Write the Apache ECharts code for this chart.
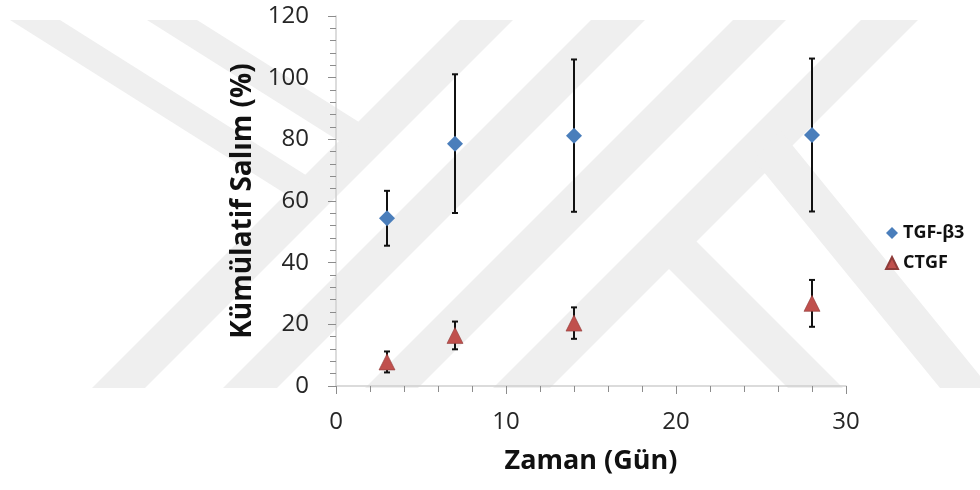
<!DOCTYPE html>
<html><head><meta charset="utf-8">
<script src="https://cdn.jsdelivr.net/npm/echarts@6/dist/echarts.min.js"></script>
<style>html,body{margin:0;padding:0;background:#fff}#c{width:980px;height:490px}</style>
</head><body><div id="c"></div>
<script>
// ---- data ----
const days = [3, 7, 14, 28];
const tgfMean = [54.4, 78.6, 81.2, 81.4];
const tgfErr = [8.9, 22.5, 24.7, 24.8];
const ctgfMean = [7.8, 16.4, 20.4, 26.8];
const ctgfErr = [3.4, 4.5, 5.1, 7.6];
const seriesNames = ['TGF-β3', 'CTGF'];
const xTicks = [0, 10, 20, 30];
const yTicks = [0, 20, 40, 60, 80, 100, 120];

// ---- background watermark bands (decoration) ----
const wmColor = '#efefef';
const wmBands = [
  [[92,388],[145,388],[513,20],[460,20]],
  [[223,388],[277,388],[645,20],[591,20]],
  [[365,388],[418,388],[786,20],[733,20]],
  [[493,388],[550,388],[918,20],[861,20]],
  [[10,20],[60,20],[320,184],[300,203]],
  [[147,20],[197,20],[370,129],[350,148]],
  [[685,230],[843,388],[788,388],[650,250]],
  [[754,160],[780,130],[990,388],[940,388]]
];

const tgfPts = days.map((d, i) => [d, tgfMean[i]]);
const ctgfPts = days.map((d, i) => [d, ctgfMean[i]]);
const tgfBars = days.map((d, i) => [d, tgfMean[i] - tgfErr[i], tgfMean[i] + tgfErr[i]]);
const ctgfBars = days.map((d, i) => [d, ctgfMean[i] - ctgfErr[i], ctgfMean[i] + ctgfErr[i]]);

function errItem(params, api) {
  const x = api.value(0), lo = api.value(1), hi = api.value(2);
  const a = api.coord([x, hi]), b = api.coord([x, lo]);
  const w = 3;
  const st = { stroke: '#111', lineWidth: 2 };
  return { type: 'group', children: [
    { type: 'line', shape: { x1: a[0], y1: a[1], x2: b[0], y2: b[1] }, style: st },
    { type: 'line', shape: { x1: a[0] - w, y1: a[1], x2: a[0] + w, y2: a[1] }, style: st },
    { type: 'line', shape: { x1: b[0] - w, y1: b[1], x2: b[0] + w, y2: b[1] }, style: st }
  ]};
}

const font = '"Open Sans", "Noto Sans", sans-serif';
const chart = echarts.init(document.getElementById('c'), null, { renderer: 'canvas' });
chart.setOption({
  backgroundColor: '#ffffff',
  animation: false,
  graphic: { elements: wmBands.map(pts => ({
    type: 'polygon', silent: true, z: -10,
    shape: { points: pts }, style: { fill: wmColor }
  })) },
  grid: { left: 336, right: 134, top: 16, bottom: 104 },
  legend: {
    data: seriesNames, orient: 'vertical', left: 880, top: 219,
    itemWidth: 12, itemHeight: 12, itemGap: 12,
    textStyle: { fontFamily: font, fontWeight: 'bold', fontSize: 18, color: '#111' }
  },
  xAxis: {
    type: 'value', min: xTicks[0], max: xTicks[xTicks.length - 1], interval: xTicks[1] - xTicks[0],
    name: 'Zaman (Gün)', nameLocation: 'middle', nameGap: 62,
    nameTextStyle: { fontFamily: font, fontWeight: 'bold', fontSize: 27, color: '#111' },
    axisLine: { show: true, lineStyle: { color: '#d0d0d0', width: 1.5 } },
    axisTick: { show: true, length: 8, lineStyle: { color: '#8c8c8c', width: 1 } },
    minorTick: { show: true, splitNumber: 5, length: 6, lineStyle: { color: '#8c8c8c', width: 1 } },
    splitLine: { show: false },
    axisLabel: { margin: 24, fontFamily: font, fontSize: 24, color: '#262626' }
  },
  yAxis: {
    type: 'value', min: yTicks[0], max: yTicks[yTicks.length - 1], interval: yTicks[1] - yTicks[0],
    name: 'Kümülatif Salım (%)', nameLocation: 'middle', nameGap: 79,
    nameTextStyle: { fontFamily: font, fontWeight: 'bold', fontSize: 28, color: '#111' },
    axisLine: { show: true, lineStyle: { color: '#d0d0d0', width: 1.5 } },
    axisTick: { show: true, length: 8, lineStyle: { color: '#8c8c8c', width: 1 } },
    minorTick: { show: true, splitNumber: 5, length: 6, lineStyle: { color: '#8c8c8c', width: 1 } },
    splitLine: { show: false },
    axisLabel: { margin: 27, fontFamily: font, fontSize: 24, color: '#262626' }
  },
  series: [
    { type: 'custom', name: 'errTGF', renderItem: errItem, data: tgfBars, encode: { x: 0, y: [1, 2] }, z: 3, clip: false, silent: true },
    { type: 'custom', name: 'errCTGF', renderItem: errItem, data: ctgfBars, encode: { x: 0, y: [1, 2] }, z: 3, clip: false, silent: true },
    { type: 'scatter', name: seriesNames[0], data: tgfPts, symbol: 'diamond', symbolSize: 16, z: 5,
      itemStyle: { color: '#4a7ebb', opacity: 1 } },
    { type: 'scatter', name: seriesNames[1], data: ctgfPts, symbol: 'triangle', symbolSize: 16, z: 5,
      itemStyle: { color: '#c0504d', borderColor: '#8e3b39', borderWidth: 0.6, opacity: 1 } }
  ]
});
</script></body></html>
